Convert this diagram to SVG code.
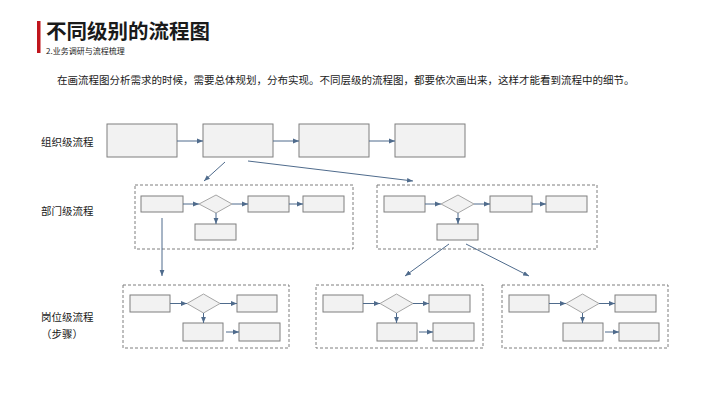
<svg xmlns="http://www.w3.org/2000/svg" width="720" height="405" viewBox="0 0 720 405">
<defs>
<marker id="ah" viewBox="0 0 10 10" refX="10" refY="5" markerWidth="6" markerHeight="6" markerUnits="userSpaceOnUse" orient="auto"><path d="M0,1 L10,5 L0,9 z" fill="#4f6b8c"/></marker>
<style>
.t{font-family:"Noto Sans CJK SC","Microsoft YaHei",sans-serif;fill:#1a1a1a}
.box{fill:#f2f2f2;stroke:#7f7f7f;stroke-width:1}
.dia{fill:#f2f2f2;stroke:#a6a6a6;stroke-width:1}
.dash{fill:none;stroke:#7f7f7f;stroke-width:1;stroke-dasharray:3 2}
.c line{stroke:#4f6b8c;stroke-width:1;marker-end:url(#ah)}
</style>
</defs>
<rect width="720" height="405" fill="#ffffff"/>
<g id="title">
<rect x="37" y="21" width="3.5" height="32" fill="#c0151d"/>
<text class="t" x="46" y="38.5" font-size="20.5" font-weight="bold" fill="#000">不同级别的流程图</text>
<text class="t" x="46" y="53.5" font-size="8">2.业务调研与流程梳理</text>
</g>
<text class="t" x="57" y="84" font-size="10.5">在画流程图分析需求的时候，需要总体规划，分布实现。不同层级的流程图，都要依次画出来，这样才能看到流程中的细节。</text>
<g id="labels">
<text class="t" x="41" y="146" font-size="10.5">组织级流程</text>
<text class="t" x="41" y="215" font-size="10.5">部门级流程</text>
<text class="t" x="41" y="321" font-size="10.5">岗位级流程</text>
<text class="t" x="41" y="338" font-size="10.5">（步骤）</text>
</g>
<g id="org">
<rect class="box" x="107" y="124" width="70" height="33"/>
<rect class="box" x="203" y="124" width="70" height="33"/>
<rect class="box" x="299" y="124" width="70" height="33"/>
<rect class="box" x="395" y="124" width="70" height="33"/>
</g>
<g id="dept1" transform="translate(135,185)">
<rect class="dash" x="0" y="0" width="218" height="64"/>
<rect class="box" x="6" y="11" width="42" height="16"/>
<path class="dia" d="M64,19 L81,10 L97,19 L81,28 Z"/>
<rect class="box" x="113" y="11" width="41" height="16"/>
<rect class="box" x="168" y="11" width="41" height="16"/>
<rect class="box" x="60" y="39" width="41" height="16"/>
</g>
<g id="dept2" transform="translate(377,185)">
<rect class="dash" x="0" y="0" width="220" height="64"/>
<rect class="box" x="7" y="11" width="41" height="16"/>
<path class="dia" d="M64,19 L81,10 L97,19 L81,28 Z"/>
<rect class="box" x="113" y="11" width="42" height="16"/>
<rect class="box" x="169" y="11" width="41" height="16"/>
<rect class="box" x="60" y="39" width="41" height="16"/>
</g>
<g id="post1" transform="translate(123,285)">
<rect class="dash" x="0" y="0" width="166" height="63"/>
<rect class="box" x="7" y="10" width="40" height="17"/>
<path class="dia" d="M64,18.5 L80.5,9 L97,18.5 L80.5,28 Z"/>
<rect class="box" x="114" y="10" width="40" height="17"/>
<rect class="box" x="60" y="38" width="40" height="18"/>
<rect class="box" x="116" y="38" width="41" height="18"/>
</g>
<g id="post2" transform="translate(316,285)">
<rect class="dash" x="0" y="0" width="167" height="63"/>
<rect class="box" x="7" y="10" width="40" height="17"/>
<path class="dia" d="M64,18.5 L80.5,9 L97,18.5 L80.5,28 Z"/>
<rect class="box" x="113" y="10" width="41" height="17"/>
<rect class="box" x="61" y="38" width="40" height="18"/>
<rect class="box" x="117" y="38" width="41" height="18"/>
</g>
<g id="post3" transform="translate(502,285)">
<rect class="dash" x="0" y="0" width="166" height="63"/>
<rect class="box" x="7" y="10" width="40" height="17"/>
<path class="dia" d="M64,18.5 L80.5,9 L97,18.5 L80.5,28 Z"/>
<rect class="box" x="113" y="10" width="41" height="17"/>
<rect class="box" x="61" y="38" width="40" height="18"/>
<rect class="box" x="117" y="38" width="40" height="18"/>
</g>
<g id="connectors" class="c">
<line x1="177" y1="141" x2="203" y2="141"/>
<line x1="273" y1="141" x2="299" y2="141"/>
<line x1="369" y1="141" x2="395" y2="141"/>
<line x1="225" y1="162" x2="204" y2="181"/>
<line x1="248" y1="161" x2="413" y2="181"/>
<line x1="183" y1="204" x2="199" y2="204"/>
<line x1="232" y1="204" x2="248" y2="204"/>
<line x1="289" y1="204" x2="303" y2="204"/>
<line x1="216" y1="213" x2="216" y2="224"/>
<line x1="162" y1="218" x2="162" y2="276"/>
<line x1="425" y1="204" x2="441" y2="204"/>
<line x1="474" y1="204" x2="490" y2="204"/>
<line x1="532" y1="204" x2="546" y2="204"/>
<line x1="458" y1="213" x2="458" y2="224"/>
<line x1="449" y1="244" x2="405" y2="276"/>
<line x1="466" y1="244" x2="529" y2="276"/>
<line x1="170" y1="303.5" x2="187" y2="303.5"/>
<line x1="220" y1="303.5" x2="237" y2="303.5"/>
<line x1="203.5" y1="313" x2="203.5" y2="323"/>
<line x1="226" y1="332" x2="239" y2="332"/>
<line x1="363" y1="303.5" x2="380" y2="303.5"/>
<line x1="413" y1="303.5" x2="429" y2="303.5"/>
<line x1="396.5" y1="313" x2="396.5" y2="323"/>
<line x1="419" y1="332" x2="433" y2="332"/>
<line x1="549" y1="303.5" x2="566" y2="303.5"/>
<line x1="599" y1="303.5" x2="615" y2="303.5"/>
<line x1="582.5" y1="313" x2="582.5" y2="323"/>
<line x1="605" y1="332" x2="619" y2="332"/>
</g>
</svg>
